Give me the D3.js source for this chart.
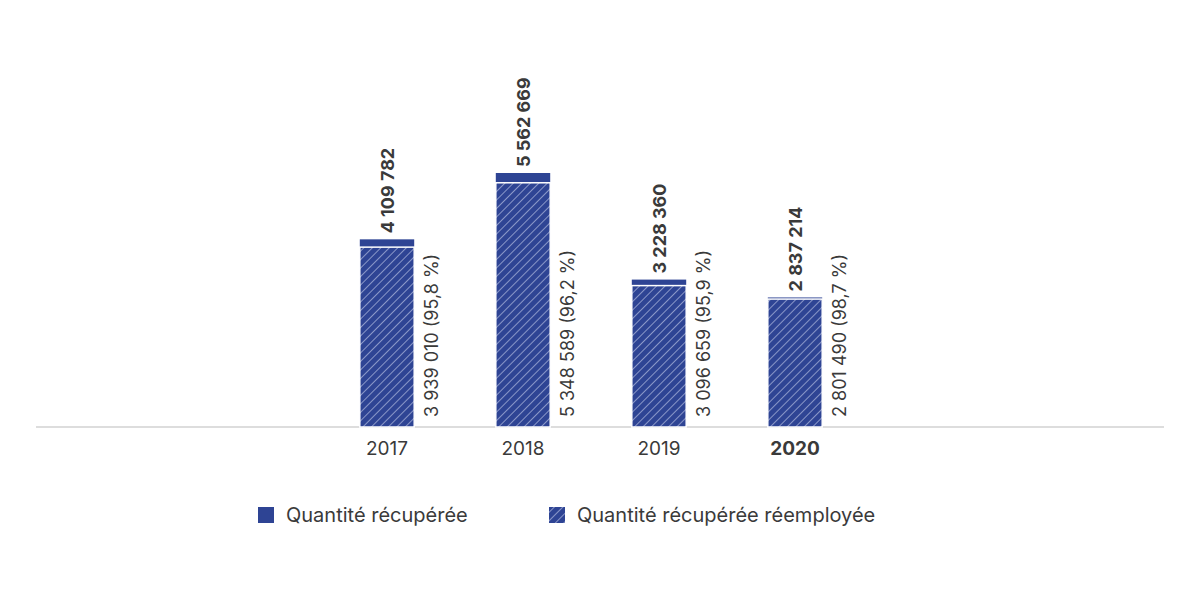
<!DOCTYPE html>
<html><head><meta charset="utf-8">
<script src="https://cdn.jsdelivr.net/npm/d3@7"></script>
<style>body{margin:0;background:#fff}text{font-family:Inter,"Noto Sans",sans-serif}</style>
</head><body>
<svg id="chart" width="1200" height="600"></svg>
<script>
const years = ["2017", "2018", "2019", "2020"];
const recovered = [4109782, 5562669, 3228360, 2837214];
const reused = [3939010, 5348589, 3096659, 2801490];
const reusedPct = ["95,8", "96,2", "95,9", "98,7"];
const blue = "#2e4494";
const fmt = v => d3.format(",")(v).replace(/,/g, " ");

let svg = d3.select("#chart");
const baseY = 427;

let defs = svg.append("defs");
let pat = defs.append("pattern").attr("id", "hatch")
  .attr("patternUnits", "userSpaceOnUse").attr("width", 6).attr("height", 6)
  .attr("patternTransform", "rotate(45)");
pat.append("rect").attr("width", 6).attr("height", 6).attr("fill", blue);
pat.append("line").attr("x1", 0).attr("y1", 0).attr("x2", 0).attr("y2", 6)
  .attr("stroke", "#c9d0ec").attr("stroke-width", 1.2);

const x = d3.scaleBand().domain(years).range([319, 863]).paddingInner(0.6).paddingOuter(0.3);
const y = d3.scaleLinear().domain([0, 5562669]).range([baseY, 173]);

//axis line
svg.append("line").attr("x1", 36).attr("x2", 1164).attr("y1", baseY).attr("y2", baseY)
  .attr("stroke", "#bbb").attr("stroke-width", 1);

years.forEach((yr, i) => {
  const bx = x(yr), bw = x.bandwidth(), cx = bx + bw / 2;
  svg.append("rect").attr("x", bx).attr("y", y(recovered[i])).attr("width", bw)
    .attr("height", baseY - y(recovered[i])).attr("fill", blue);
  svg.append("rect").attr("x", bx).attr("y", y(reused[i])).attr("width", bw)
    .attr("height", baseY - y(reused[i])).attr("fill", "url(#hatch)")
    .attr("stroke", "#fff").attr("stroke-width", 1.5);

  svg.append("text").attr("transform", `translate(${cx + 7},${y(recovered[i]) - 6}) rotate(-90)`)
    .attr("font-size", 18).attr("font-weight", "bold").attr("fill", "#3a3a3a")
    .text(fmt(recovered[i]));
  svg.append("text").attr("transform", `translate(${bx + bw + 24},${baseY - 10}) rotate(-90)`)
    .attr("font-size", 18).attr("fill", "#3a3a3a")
    .text(`${fmt(reused[i])} (${reusedPct[i]} %)`);

  svg.append("text").attr("x", cx).attr("y", 455).attr("text-anchor", "middle")
    .attr("font-size", 19).attr("fill", "#3a3a3a")
    .attr("font-weight", yr === "2020" ? "bold" : "normal").text(yr);
});

//legend
const legend = [["Quantité récupérée", blue, 258], ["Quantité récupérée réemployée", "url(#hatch)", 549]];
legend.forEach(([label, fill, lx]) => {
  svg.append("rect").attr("x", lx).attr("y", 507).attr("width", 16).attr("height", 16).attr("fill", fill);
  svg.append("text").attr("x", lx + 28).attr("y", 522).attr("font-size", 20)
    .attr("fill", "#3a3a3a").text(label);
});
</script>
</body></html>
